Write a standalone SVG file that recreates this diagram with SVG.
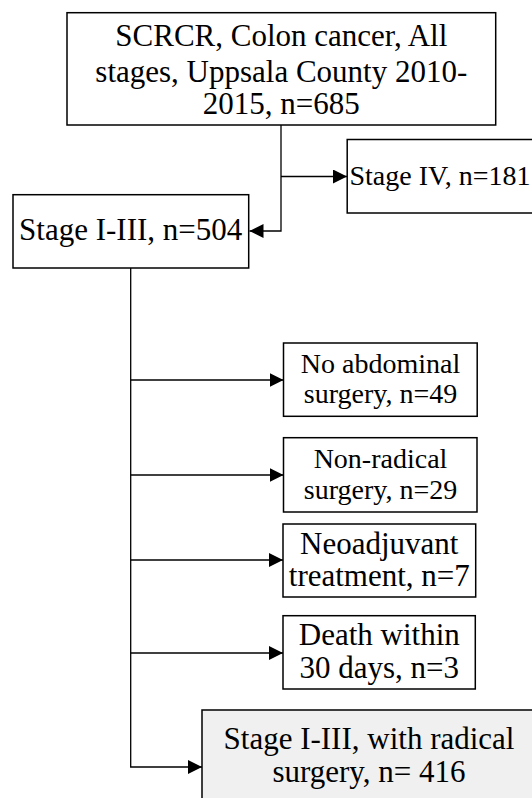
<svg xmlns="http://www.w3.org/2000/svg" width="532" height="798" viewBox="0 0 532 798">
<style>
.box{fill:#fff;stroke:#000;stroke-width:1.5}
.final{fill:#f0f0f0;stroke:#000;stroke-width:1.5}
.t{font-family:"Liberation Serif","Times New Roman",serif;fill:#000;text-anchor:middle}
.l{fill:none;stroke:#000;stroke-width:1.3}
</style>
<defs>
<marker id="ah" markerWidth="16" markerHeight="16" refX="14" refY="7" orient="auto" markerUnits="userSpaceOnUse">
<path d="M0,0 L14,7 L0,14 Z" fill="#000"/>
</marker>
</defs>
<rect width="532" height="798" fill="#fff"/>
<g id="connectors">
<path class="l" d="M281,125 V231 H249.5" marker-end="url(#ah)"/>
<path class="l" d="M281,176.5 H347" marker-end="url(#ah)"/>
<path class="l" d="M130.7,268 V767 H202" marker-end="url(#ah)"/>
<path class="l" d="M130.7,380 H283.5" marker-end="url(#ah)"/>
<path class="l" d="M130.7,475 H283.5" marker-end="url(#ah)"/>
<path class="l" d="M130.7,560 H283" marker-end="url(#ah)"/>
<path class="l" d="M130.7,653 H283" marker-end="url(#ah)"/>
</g>
<g id="n_all">
<rect class="box" x="67" y="12.7" width="428.7" height="112.3"/>
<text class="t" font-size="31" x="281.3" y="46">SCRCR, Colon cancer, All</text>
<text class="t" font-size="31" x="281.3" y="81.5">stages, Uppsala County 2010-</text>
<text class="t" font-size="31" x="281.3" y="113.5">2015, n=685</text>
</g>
<g id="n_stage4">
<rect class="box" x="347.2" y="139.5" width="200" height="73.5"/>
<text class="t" font-size="28" x="349.5" y="185" style="text-anchor:start">Stage IV, n=181</text>
</g>
<g id="n_stage13">
<rect class="box" x="13" y="194.7" width="235.7" height="73.3"/>
<text class="t" font-size="31" x="130.7" y="240">Stage I-III, n=504</text>
</g>
<g id="n_noabd">
<rect class="box" x="283.5" y="343" width="193.7" height="73.3"/>
<text class="t" font-size="28" x="380.5" y="372.7">No abdominal</text>
<text class="t" font-size="28" x="380.5" y="403.3">surgery, n=49</text>
</g>
<g id="n_nonrad">
<rect class="box" x="283.5" y="437.7" width="193.5" height="74.3"/>
<text class="t" font-size="28" x="380.5" y="467.7">Non-radical</text>
<text class="t" font-size="28" x="380.5" y="499.3">surgery, n=29</text>
</g>
<g id="n_neo">
<rect class="box" x="283" y="524" width="192.7" height="73"/>
<text class="t" font-size="31" x="379.3" y="553.5">Neoadjuvant</text>
<text class="t" font-size="31" x="379.3" y="586">treatment, n=7</text>
</g>
<g id="n_death">
<rect class="box" x="283" y="615.7" width="192.3" height="73.3"/>
<text class="t" font-size="31" x="379.3" y="645">Death within</text>
<text class="t" font-size="31" x="379.3" y="678.3">30 days, n=3</text>
</g>
<g id="n_final">
<rect class="final" x="202" y="710" width="340" height="100"/>
<text class="t" font-size="31" x="369" y="749.3">Stage I-III, with radical</text>
<text class="t" font-size="31" x="369" y="781.7">surgery, n= 416</text>
</g>
</svg>
